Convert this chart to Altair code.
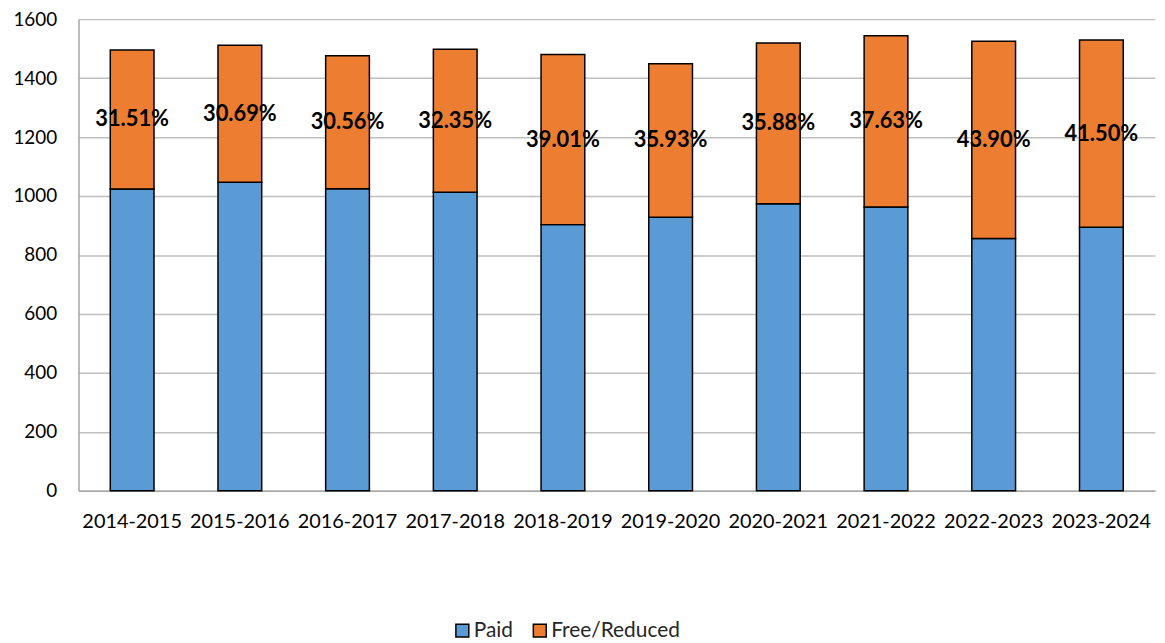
import altair as alt
import pandas as pd

years = ["2014-2015", "2015-2016", "2016-2017", "2017-2018", "2018-2019",
         "2019-2020", "2020-2021", "2021-2022", "2022-2023", "2023-2024"]
paid = [1024, 1047, 1025, 1013, 903, 928, 974, 963, 856, 894]
free_reduced = [471, 464, 451, 485, 577, 521, 545, 581, 669, 635]
pct_labels = ["31.51%", "30.69%", "30.56%", "32.35%", "39.01%",
              "35.93%", "35.88%", "37.63%", "43.90%", "41.50%"]
series = ["Paid", "Free/Reduced"]
colors = ["#5B9BD5", "#ED7D31"]

rows = []
for y, p, f in zip(years, paid, free_reduced):
    rows.append({"year": y, "series": "Paid", "value": p, "ord": 0})
    rows.append({"year": y, "series": "Free/Reduced", "value": f, "ord": 1})
df = pd.DataFrame(rows)

lab = pd.DataFrame({
    "year": years,
    "mid": [p + f / 2 for p, f in zip(paid, free_reduced)],
    "label": pct_labels,
})

FONT = "Lato"

x_enc = alt.X(
    "year:N", sort=years, title=None,
    scale=alt.Scale(paddingInner=0.594, paddingOuter=0.295),
    axis=alt.Axis(labelAngle=0, labelFont=FONT, labelFontSize=20, labelColor="black",
                  tickSize=0, labelPadding=21, domainColor="#A6A6A6", domainWidth=1.5),
)

bars = alt.Chart(df).mark_bar(stroke="black", strokeWidth=1.5).encode(
    x=x_enc,
    y=alt.Y("value:Q", stack="zero", title=None,
            scale=alt.Scale(domain=[0, 1600], nice=False),
            axis=alt.Axis(values=list(range(0, 1601, 200)), format="d",
                          labelFont=FONT, labelFontSize=19,
                          labelColor="black", tickSize=0, labelPadding=22,
                          gridColor="#BFBFBF", gridWidth=1.5,
                          domainColor="#A6A6A6", domainWidth=1.5)),
    color=alt.Color("series:N", sort=series,
                    scale=alt.Scale(domain=series, range=colors),
                    legend=alt.Legend(title=None, orient="none", direction="horizontal",
                                      legendX=376, legendY=605,
                                      symbolType="square", symbolSize=169,
                                      symbolStrokeColor="black", symbolStrokeWidth=1.5,
                                      labelFont=FONT, labelFontSize=21, labelColor="#262626",
                                      labelOffset=1, columnPadding=16, padding=0)),
    order=alt.Order("ord:Q"),
)

texts = alt.Chart(lab).mark_text(font=FONT, fontWeight="bold", fontSize=22,
                                 color="black", baseline="middle").encode(
    x=alt.X("year:N", sort=years),
    y=alt.Y("mid:Q"),
    text="label:N",
)

chart = (bars + texts).properties(
    width=1084, height=475,
    autosize=alt.AutoSizeParams(type="none"),
    padding={"left": 71, "top": 9, "right": 2, "bottom": 150},
).configure_view(stroke=None)

chart.save("out.html", embed_options={"renderer": "svg", "actions": False})
